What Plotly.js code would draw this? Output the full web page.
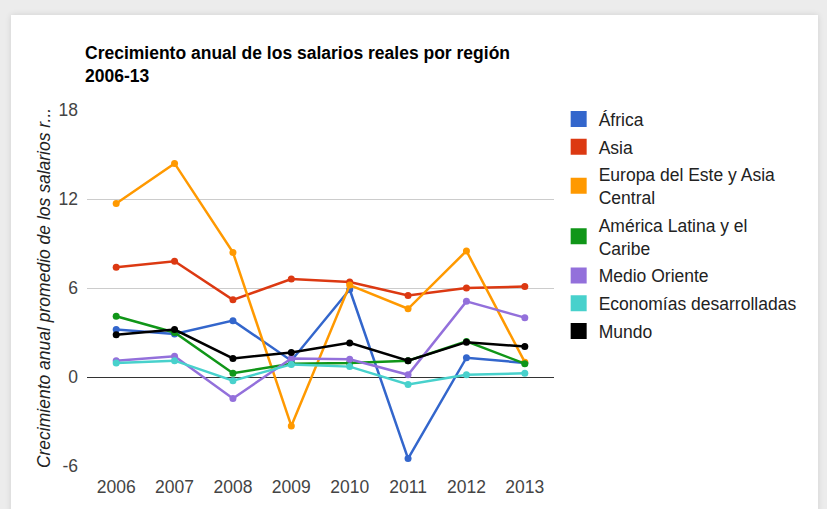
<!DOCTYPE html>
<html>
<head>
<meta charset="utf-8">
<script src="https://cdn.plot.ly/plotly-3.0.1.min.js"></script>
<style>
  html, body { margin:0; padding:0; width:827px; height:509px; overflow:hidden; background:#ececec; }
  #card { position:absolute; left:11px; top:15px; width:807px; height:520px; background:#fff; box-shadow:0 0 6px rgba(0,0,0,0.12); }
  #chart { position:absolute; left:0; top:0; width:827px; height:509px; }
</style>
</head>
<body>
<div id="card"></div>
<div id="chart"></div>
<script>
const years = ["2006","2007","2008","2009","2010","2011","2012","2013"];
const seriesNames = ["África","Asia","Europa del Este y Asia<br>Central","América Latina y el<br>Caribe","Medio Oriente","Economías desarrolladas","Mundo"];
const colors = ["#3366CC","#DC3912","#FF9900","#109618","#9370DB","#48D1CC","#000000"];
const africa   = [3.2, 2.9, 3.8, 1.1, 5.9, -5.5, 1.3, 0.95];
const asia     = [7.4, 7.8, 5.2, 6.6, 6.4, 5.5, 6.0, 6.1];
const europa   = [11.7, 14.4, 8.4, -3.3, 6.2, 4.6, 8.5, 1.0];
const americaL = [4.1, 3.0, 0.25, 0.9, 0.95, 1.1, 2.4, 0.9];
const medio    = [1.1, 1.4, -1.45, 1.25, 1.2, 0.15, 5.1, 4.0];
const economias= [0.95, 1.1, -0.25, 0.85, 0.7, -0.5, 0.15, 0.25];
const mundo    = [2.85, 3.2, 1.25, 1.65, 2.3, 1.1, 2.35, 2.05];
const allSeries = [africa, asia, europa, americaL, medio, economias, mundo];

const traces = [];
allSeries.forEach((vals, i) => {
  traces.push({
    type: 'scatter', mode: 'lines+markers', x: years, y: vals,
    line: {color: colors[i], width: 2.5}, marker: {color: colors[i], size: 7},
    showlegend: false, hoverinfo: 'x+y'
  });
});
seriesNames.forEach((nm, i) => {
  traces.push({
    type: 'scatter', mode: 'markers', x: [null], y: [null], name: nm,
    marker: {color: colors[i], size: 16, symbol: 'square'},
    legendgroup: 'g' + i, showlegend: true
  });
});

const fontFam = '"Liberation Sans", Arial, sans-serif';
const layout = {
  width: 827, height: 509,
  paper_bgcolor: 'rgba(0,0,0,0)', plot_bgcolor: 'rgba(0,0,0,0)',
  margin: {l: 87, r: 273, t: 110, b: 43},
  font: {family: fontFam, size: 17.5, color: '#444'},
  title: {
    text: '<b>Crecimiento anual de los salarios reales por región<br>2006-13</b>',
    font: {family: fontFam, size: 17.5, color: '#000'},
    x: 85/827, xref: 'container', xanchor: 'left',
    y: 1 - 59/509, yref: 'container', yanchor: 'top'
  },
  xaxis: {
    type: 'category', range: [-0.5, 7.5], showgrid: false, zeroline: false,
    showline: false, ticks: '', ticklabelstandoff: 8,
    tickfont: {size: 17.5, color: '#444'}, fixedrange: true
  },
  yaxis: {
    range: [-6, 18], tickvals: [-6, 0, 6, 12, 18], ticktext: ['-6','0','6','12','18'],
    showgrid: true, gridcolor: '#cccccc', gridwidth: 1,
    zeroline: true, zerolinecolor: '#333333', zerolinewidth: 1,
    showline: false, ticks: '', ticklabelstandoff: 8,
    tickfont: {size: 17.5, color: '#444'},
    title: {text: '<i>Crecimiento anual promedio de los salarios r...</i>', font: {size: 17.5, color: '#222'}, standoff: 3},
    fixedrange: true
  },
  legend: {
    x: 1.01, xanchor: 'left', y: 1.025, yanchor: 'top',
    traceorder: 'grouped', tracegroupgap: 2,
    font: {size: 17.5, color: '#222'}, bgcolor: 'rgba(0,0,0,0)'
  },
  showlegend: true
};
Plotly.newPlot('chart', traces, layout, {displayModeBar: false, staticPlot: true});
</script>
</body>
</html>
